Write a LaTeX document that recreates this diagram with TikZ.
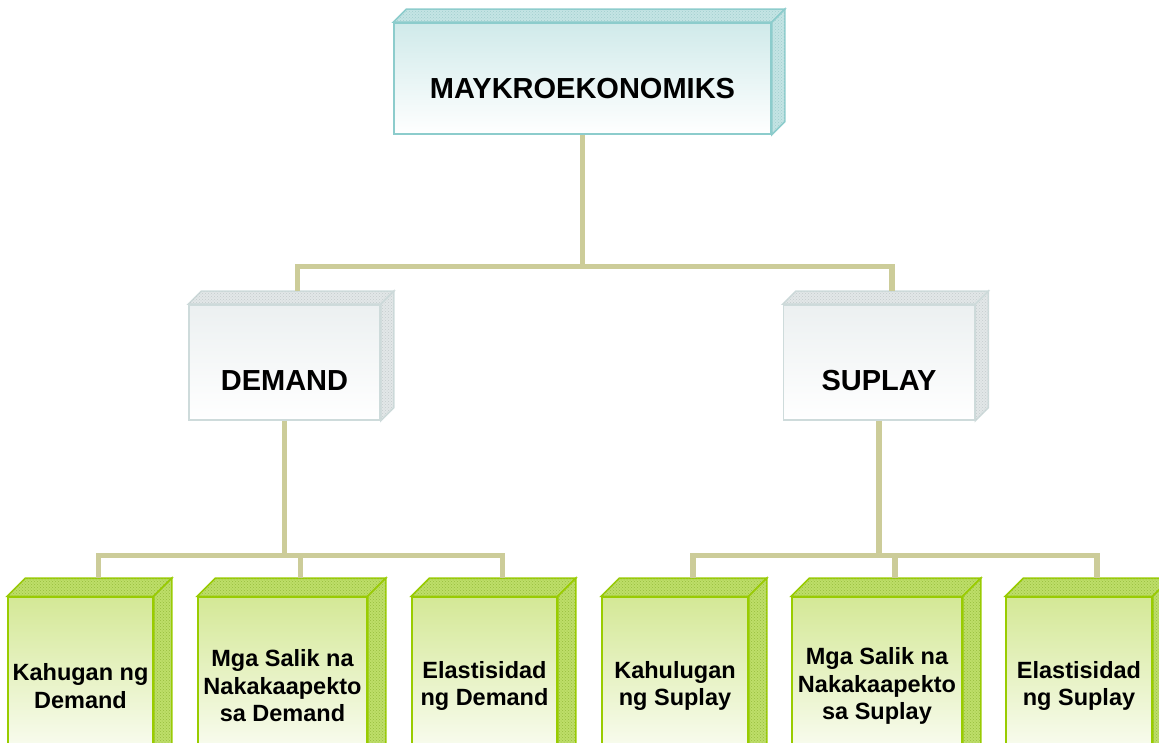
\documentclass[tikz,border=0pt]{standalone}
\usepackage{fontspec}
\setmainfont{Liberation Sans}
\usetikzlibrary{calc,patterns}

\definecolor{tealedge}{RGB}{140,204,204}
\definecolor{tealfront}{RGB}{208,234,234}
\definecolor{tealside}{RGB}{196,228,228}
\definecolor{tealdots}{RGB}{160,206,206}
\definecolor{greyedge}{RGB}{206,219,219}
\definecolor{greyfront}{RGB}{236,240,241}
\definecolor{greyside}{RGB}{226,231,232}
\definecolor{greydots}{RGB}{196,203,205}
\definecolor{greenedge}{RGB}{153,204,0}
\definecolor{greenfront}{RGB}{212,232,150}
\definecolor{greenside}{RGB}{190,222,105}
\definecolor{greendots}{RGB}{150,190,60}
\definecolor{linecol}{RGB}{204,204,153}

\begin{document}
\begin{tikzpicture}[x=1pt, y=1pt]
%\draw[very thin, color = gray](0, 0) grid[step=50] (1159, 742);
\tikzstyle{box} = [draw, rectangle, inner sep=0pt, line width=1.5pt, align=center]
\tikzstyle{topbox} = [box, draw=tealedge, top color=tealfront, bottom color=white,
  minimum width=377pt, minimum height=111pt, text height=41pt, text depth=0pt,
  font=\bfseries\fontsize{29}{33}\selectfont]
\tikzstyle{midbox} = [box, draw=greyedge, top color=greyfront, bottom color=white,
  minimum width=191pt, minimum height=115pt, text height=57pt, text depth=0pt,
  font=\bfseries\fontsize{29}{33}\selectfont]
\tikzstyle{leafbox} = [box, draw=greenedge, top color=greenfront, bottom color=white,
  minimum height=178pt, font=\bfseries\fontsize{23.5}{27.5}\selectfont]
\tikzstyle{tealface} = [draw=tealedge, line width=1.5pt, line join=miter, fill=tealside,
  postaction={pattern=crosshatch dots, pattern color=tealdots}]
\tikzstyle{greyface} = [draw=greyedge, line width=1.5pt, line join=miter, fill=greyside,
  postaction={pattern=crosshatch dots, pattern color=greydots}]
\tikzstyle{greenface} = [draw=greenedge, line width=1.5pt, line join=miter, fill=greenside,
  postaction={pattern=crosshatch dots, pattern color=greendots}]
\tikzstyle{line} = [draw, line width=5.5pt, color=linecol]

\clip (0, 0) rectangle (1159, 742);

\node [topbox] at (582.5, 663.5) (maykro) {MAYKROEKONOMIKS};
\node [midbox] at (284.5, 379.5) (demand) {DEMAND};
\node [midbox] at (879, 379.5) (suplay) {SUPLAY};
\node [leafbox, minimum width=145pt] at (80.5, 56) (kahuganD) {Kahugan ng\\Demand};
\node [leafbox, minimum width=169pt] at (282.5, 56) (salikD) {Mga Salik na\\Nakakaapekto\\sa Demand};
\node [leafbox, minimum width=145pt] at (484.5, 56) (elastD) {Elastisidad\\ng Demand};
\node [leafbox, minimum width=146pt] at (675, 56) (kahuluganS) {Kahulugan\\ng Suplay};
\node [leafbox, minimum width=170pt] at (877, 56) (salikS) {Mga Salik na\\Nakakaapekto\\sa Suplay};
\node [leafbox, minimum width=146pt] at (1079, 56) (elastS) {Elastisidad\\ng Suplay};

% top and right faces of each box
\foreach \b/\d/\s in {maykro/13/tealface, demand/13/greyface, suplay/13/greyface,
    kahuganD/18/greenface, salikD/18/greenface, elastD/18/greenface,
    kahuluganS/18/greenface, salikS/18/greenface, elastS/18/greenface} {
  \path [\s] (\b.north west) -- ++(\d pt, \d pt) -- ($(\b.north east)+(\d pt, \d pt)$)
    -- (\b.north east) -- cycle;
  \path [\s] (\b.north east) -- ++(\d pt, \d pt) -- ($(\b.south east)+(\d pt, \d pt)$)
    -- (\b.south east) -- cycle;
  \coordinate (\b-in) at ($(\b.north)+(\d pt, \d pt)$);
}

\coordinate (j1) at ($(maykro.south)+(0, -132pt)$);
\coordinate (j2) at ($(demand.south)+(0, -135pt)$);
\coordinate (j3) at ($(suplay.south)+(0, -135pt)$);
\path [line] (maykro.south) -- (j1);
\path [line] (demand-in) |- (j1) -| (suplay-in);
\path [line] (demand.south) -- (j2);
\path [line] (kahuganD-in) |- (j2) -| (elastD-in);
\path [line] (salikD-in) -- (salikD-in |- j2);
\path [line] (suplay.south) -- (j3);
\path [line] (kahuluganS-in) |- (j3) -| (elastS-in);
\path [line] (salikS-in) -- (salikS-in |- j3);
\end{tikzpicture}
\end{document}
